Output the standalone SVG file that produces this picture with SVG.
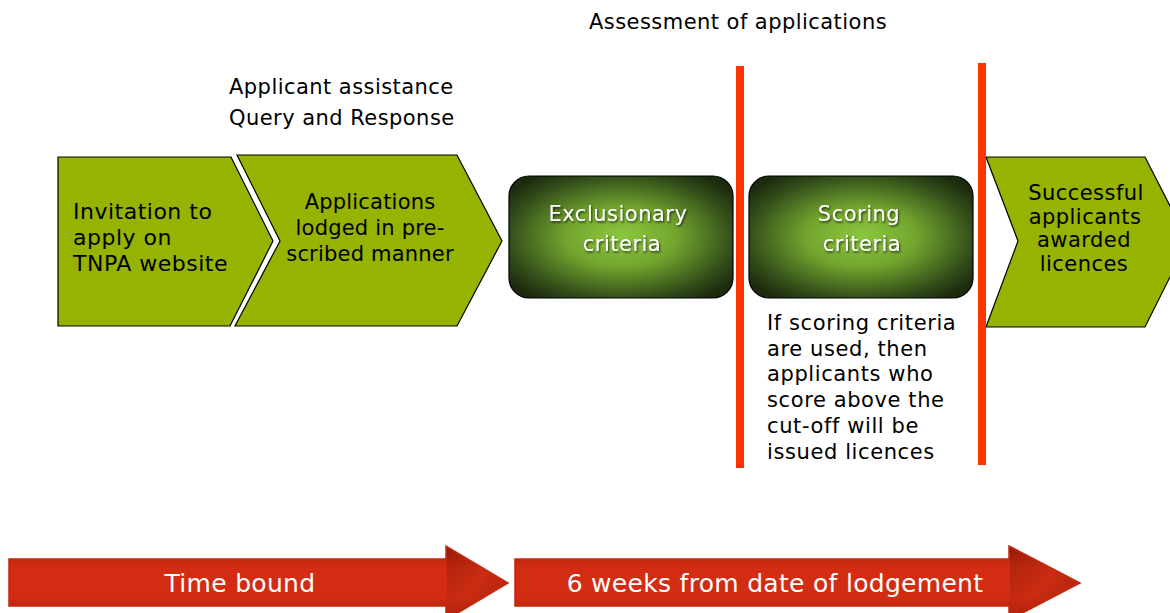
<svg xmlns="http://www.w3.org/2000/svg" width="1170" height="613" viewBox="0 0 1170 613">
<defs>
<radialGradient id="gbox" cx="50%" cy="50%" r="62%">
<stop offset="0" stop-color="#8dc840"/>
<stop offset="0.4" stop-color="#72a42e"/>
<stop offset="0.8" stop-color="#34501a"/>
<stop offset="1" stop-color="#1c2a0e"/>
</radialGradient>
<linearGradient id="gred" x1="0" y1="0" x2="0" y2="1">
<stop offset="0" stop-color="#a91e0c"/>
<stop offset="0.3" stop-color="#d22d12"/>
<stop offset="0.7" stop-color="#d22d12"/>
<stop offset="1" stop-color="#9e1c0a"/>
</linearGradient>
<linearGradient id="ghead" x1="0" y1="0" x2="1" y2="1">
<stop offset="0" stop-color="#7a1408"/>
<stop offset="0.5" stop-color="#c22a10"/>
<stop offset="1" stop-color="#6a1006"/>
</linearGradient>
<filter id="sh" x="-10%" y="-10%" width="120%" height="130%">
<feDropShadow dx="1" dy="1.5" stdDeviation="1" flood-color="#000" flood-opacity="0.7"/>
</filter>
</defs>
<style>
text{font-family:"DejaVu Sans","Verdana",sans-serif;}
.chev{fill:#95b300;stroke:#000;stroke-width:1.2;}
.dark{fill:#000;font-size:21px;letter-spacing:0.45px;}
.c1{font-size:22px;letter-spacing:0.5px;}
.c2{font-size:21px;letter-spacing:0.2px;}
.box{fill:url(#gbox);stroke:#000;stroke-width:1.2;}
.wt{fill:#fff;font-size:21px;letter-spacing:0.5px;text-anchor:middle;}
.red{stroke:#ff3300;stroke-width:8;}
.arr{fill:url(#gred);stroke:#c2290f;stroke-width:1.5;}
.at{fill:#fff;font-size:25px;letter-spacing:0.3px;text-anchor:middle;}
.mid{text-anchor:middle;}
</style>

<g id="header">
<text class="dark" x="589" y="29">Assessment of applications</text>
</g>
<g id="assistance">
<text class="dark" x="229" y="94">Applicant assistance</text>
<text class="dark" x="229" y="125">Query and Response</text>
</g>

<g id="step1">
<polygon class="chev" points="58,157 231,157 273,241 230,326 58,326"/>
<text class="dark c1" x="73" y="219">Invitation to</text>
<text class="dark c1" x="73" y="245">apply on</text>
<text class="dark c1" x="73" y="271">TNPA website</text>
</g>
<g id="step2">
<polygon class="chev" points="237,155 457,155 502,241 457,326 235,326 280,241" stroke-width="1.2"/>
<text class="dark c2 mid" x="370" y="209">Applications</text>
<text class="dark c2 mid" x="370" y="235">lodged in pre-</text>
<text class="dark c2 mid" x="370" y="261">scribed manner</text>
</g>
<g id="exclusionary">
<rect class="box" x="509" y="176" width="224" height="122" rx="20"/>
<text class="wt" x="618" y="221" filter="url(#sh)">Exclusionary</text>
<text class="wt" x="622" y="251" filter="url(#sh)">criteria</text>
</g>
<g id="scoring">
<rect class="box" x="749" y="176" width="224" height="122" rx="20"/>
<text class="wt" x="859" y="221" filter="url(#sh)">Scoring</text>
<text class="wt" x="862" y="251" filter="url(#sh)">criteria</text>
</g>
<g id="scoring-note">
<text class="dark" x="767" y="330" style="letter-spacing:0.6px">If scoring criteria</text>
<text class="dark" x="767" y="356" style="letter-spacing:0.6px">are used, then</text>
<text class="dark" x="767" y="381" style="letter-spacing:0.6px">applicants who</text>
<text class="dark" x="767" y="407" style="letter-spacing:0.6px">score above the</text>
<text class="dark" x="767" y="433" style="letter-spacing:0.6px">cut-off will be</text>
<text class="dark" x="767" y="459" style="letter-spacing:0.6px">issued licences</text>
</g>
<g id="step3">
<polygon class="chev" points="986,157 1145,157 1188,241 1145,327 986,327 1018,241"/>
<text class="dark mid" x="1086" y="200">Successful</text>
<text class="dark mid" x="1085" y="224">applicants</text>
<text class="dark mid" x="1084" y="247">awarded</text>
<text class="dark mid" x="1084" y="271">licences</text>
</g>

<g id="connectors">
<line class="red" x1="740" y1="66" x2="740" y2="468"/>
<line class="red" x1="982" y1="63" x2="982" y2="465"/>
</g>

<g id="timebound">
<polygon class="arr" points="9,559 446,559 446,546 508,583 446,620 446,606 9,606"/>
<polygon fill="url(#ghead)" opacity="0.45" points="447,548 506,583 447,618"/>
<text class="at" x="240" y="592">Time bound</text>
</g>
<g id="sixweeks">
<polygon class="arr" points="515,559 1009,559 1009,546 1080,583 1009,620 1009,606 515,606"/>
<polygon fill="url(#ghead)" opacity="0.45" points="1010,548 1078,583 1010,618"/>
<text class="at" x="775" y="592">6 weeks from date of lodgement</text>
</g>
</svg>
